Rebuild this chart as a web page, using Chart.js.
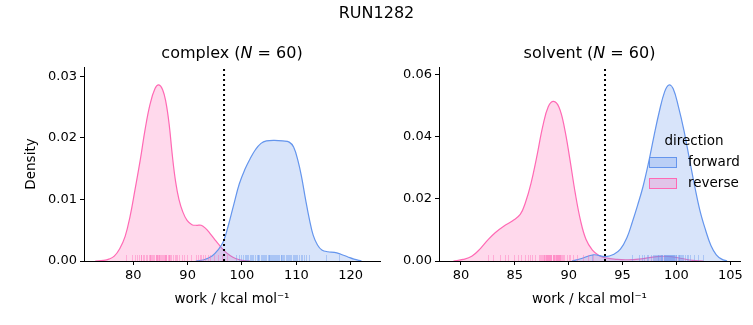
<!DOCTYPE html>
<html>
<head>
<meta charset="utf-8">
<script src="https://cdn.jsdelivr.net/npm/chart.js@4.4.0/dist/chart.umd.min.js"></script>
<style>
  body { margin:0; background:#fff; width:753px; height:325px; position:relative; overflow:hidden; font-family:'DejaVu Sans', sans-serif; }
  #sup { position:absolute; top:3px; left:0; width:753px; text-align:center; font-size:16px; color:#000; z-index:2; }
  .box { position:absolute; top:0; height:325px; }
</style>
</head>
<body>
<div id="sup">RUN1282</div>
<div class="box" style="left:0;width:385px"><canvas id="c1"></canvas></div>
<div class="box" style="left:385px;width:368px"><canvas id="c2"></canvas></div>
<script>
// --- data ---
// complex: KDE curves [work, density]
const complexForward = [[91.5,0],[93.0,0.0002],[94.5,0.0008],[95.6,0.0018],[96.6,0.0032],[97.5,0.0058],[98.5,0.0092],[99.5,0.0125],[100.5,0.0148],[101.5,0.0166],[102.5,0.0181],[103.5,0.0191],[104.5,0.0195],[106.0,0.0196],[107.5,0.0195],[108.7,0.0193],[109.5,0.0185],[110.3,0.0163],[111.0,0.0135],[111.7,0.0100],[112.4,0.0068],[113.1,0.0042],[113.9,0.0026],[114.7,0.0018],[115.8,0.0015],[117.0,0.0014],[118.2,0.0011],[119.4,0.0007],[120.6,0.0003],[122.0,0]];
const complexReverse = [[73.0,0],[74.5,0.0001],[75.5,0.0003],[76.5,0.0008],[77.5,0.0020],[78.5,0.0040],[79.4,0.0072],[80.3,0.0115],[81.3,0.0165],[82.2,0.0215],[83.1,0.0255],[84.0,0.0280],[84.7,0.0286],[85.4,0.0278],[86.0,0.0258],[86.6,0.0222],[87.2,0.0170],[87.8,0.0128],[88.4,0.0100],[89.1,0.0080],[89.9,0.0066],[90.8,0.0059],[91.7,0.0058],[92.5,0.0058],[93.3,0.0053],[94.1,0.0045],[94.9,0.0036],[95.8,0.0026],[96.8,0.0016],[97.8,0.0009],[98.8,0.0004],[100.0,0.0001],[101.5,0]];
// solvent
const solventForward = [[90.3,0],[91.2,0.0008],[92.3,0.0020],[93.4,0.0014],[94.2,0.0022],[94.8,0.0038],[95.4,0.0075],[95.9,0.0125],[96.4,0.0180],[96.9,0.0240],[97.4,0.0315],[97.9,0.0400],[98.4,0.0480],[98.9,0.0545],[99.3,0.0567],[99.7,0.0555],[100.2,0.0495],[100.7,0.0420],[101.2,0.0330],[101.7,0.0240],[102.2,0.0160],[102.7,0.0100],[103.2,0.0050],[103.7,0.0020],[104.2,0.0006],[104.7,0]];
const solventReverse = [[79.3,0],[80.2,0.0005],[81.0,0.0015],[81.8,0.0040],[82.5,0.0068],[83.2,0.0092],[84.0,0.0113],[84.8,0.0130],[85.5,0.0150],[86.0,0.0190],[86.5,0.0250],[87.0,0.0330],[87.6,0.0435],[88.1,0.0497],[88.6,0.0514],[89.1,0.0495],[89.6,0.0430],[90.1,0.0330],[90.6,0.0220],[91.1,0.0130],[91.6,0.0070],[92.2,0.0035],[92.8,0.0018],[93.4,0.0010],[94.5,0.0005],[95.5,0.0004],[96.5,0.0006],[97.5,0.0011],[98.5,0.0015],[99.5,0.0014],[100.5,0.0008],[101.5,0.0002],[102.5,0]];

// rug samples (work values)
const complexForwardRug = [98.9,99.4,99.8,100.2,100.5,100.9,101.2,101.6,101.9,102.1,102.4,102.7,103.0,103.2,103.5,103.8,104.0,104.2,104.5,104.7,105.0,105.2,105.4,105.7,105.9,106.2,106.4,106.6,106.9,107.1,107.4,107.6,107.8,108.1,108.3,108.6,108.8,109.1,109.3,109.6,109.9,110.2,110.5,110.8,111.1,111.4,111.8,112.3,103.6,104.9,106.0,107.2,108.5,101.4,100.7,102.9,105.5,109.7,115.4,117.8];
const complexReverseRug = [78.6,79.8,80.3,80.7,81.1,81.4,81.5,81.8,82.0,82.3,82.6,82.9,83.0,83.1,83.3,83.5,83.7,83.9,84.1,84.2,84.3,84.4,84.5,84.7,84.8,85.0,85.1,85.3,85.5,85.6,85.8,85.9,86.0,86.1,86.3,86.5,86.6,86.8,87.0,87.3,87.6,87.8,88.0,88.4,88.9,89.3,89.8,90.6,91.5,91.9,92.2,92.5,92.8,93.2,93.7,94.2,94.8,95.5,96.3,97.2];
const solventForwardRug = [92.2,95.9,96.5,97.0,97.3,97.6,97.8,98.0,98.2,98.3,98.5,98.6,98.7,98.8,98.9,99.0,99.1,99.2,99.3,99.4,99.5,99.5,99.6,99.7,99.8,99.9,100.0,100.1,100.2,100.3,98.4,98.1,99.0,99.6,100.4,100.6,100.8,101.0,101.3,101.6,102.0,102.5,97.4,98.9,99.3,99.8,100.2,98.6,99.1,97.9,100.5,98.3,99.7,99.4,101.1,96.8,98.8,99.2,100.0,98.7];
const solventReverseRug = [82.5,83.0,83.6,84.1,84.4,84.9,85.3,85.9,86.2,86.6,86.9,87.2,87.5,87.6,87.7,87.8,87.9,88.0,88.1,88.2,88.3,88.4,88.5,88.5,88.6,88.7,88.8,88.9,89.0,89.1,89.2,89.3,89.4,89.6,89.8,90.1,90.4,90.8,91.3,91.8,92.3,87.4,88.1,88.6,89.0,88.3,87.9,88.8,89.2,87.7,88.4,86.4,89.5,88.0,88.9,87.3,90.0,85.6,88.2,89.1];

// dotted reference line (work)
const complexLine = 96.7;
const solventLine = 93.37;

const complexXTicks = [80, 90, 100, 110, 120];
const complexYTicks = [0, 0.01, 0.02, 0.03];
const solventXTicks = [80, 85, 90, 95, 100, 105];
const solventYTicks = [0, 0.02, 0.04, 0.06];

const FWD = 'rgb(100,149,237)';
const REV = 'rgb(255,105,180)';
const FWD_FILL = 'rgba(100,149,237,0.25)';
const REV_FILL = 'rgba(255,105,180,0.25)';
const FONT = "'DejaVu Sans', sans-serif";

function toPts(arr) { return arr.map(p => ({ x: p[0], y: p[1] })); }

// rug ticks, dotted line, panel title, legend
const extras = {
  id: 'extras',
  afterDatasetsDraw(chart) {
    const o = chart.options.plugins.extras;
    const { ctx, chartArea } = chart;
    const xs = chart.scales.x;
    ctx.save();
    ctx.lineWidth = 1;
    [[o.rugF, 'rgba(100,149,237,0.4)'], [o.rugR, 'rgba(255,105,180,0.4)']].forEach(([vals, col]) => {
      ctx.strokeStyle = col;
      vals.forEach(v => {
        const px = Math.round(xs.getPixelForValue(v)) + 0.5;
        ctx.beginPath();
        ctx.moveTo(px, chartArea.bottom);
        ctx.lineTo(px, chartArea.bottom - 6);
        ctx.stroke();
      });
    });
    // dotted line
    const lx = xs.getPixelForValue(o.line);
    ctx.strokeStyle = '#000';
    ctx.lineWidth = 2;
    ctx.setLineDash([2, 3]);
    ctx.beginPath();
    ctx.moveTo(lx, chartArea.bottom);
    ctx.lineTo(lx, chartArea.top);
    ctx.stroke();
    ctx.setLineDash([]);
    ctx.restore();
  },
  afterDraw(chart) {
    const o = chart.options.plugins.extras;
    const { ctx, chartArea } = chart;
    ctx.save();
    // title with italic N
    ctx.fillStyle = '#000';
    ctx.textBaseline = 'middle';
    const parts = [[o.title + ' (', '16px ' + FONT], ['N', 'italic 16px ' + FONT], [' = 60)', '16px ' + FONT]];
    let total = 0;
    parts.forEach(p => { ctx.font = p[1]; total += ctx.measureText(p[0]).width; });
    let x = (chartArea.left + chartArea.right) / 2 - total / 2;
    parts.forEach(p => {
      ctx.font = p[1];
      ctx.textAlign = 'left';
      ctx.fillText(p[0], x, 54);
      x += ctx.measureText(p[0]).width;
    });
    // legend
    if (o.legend) {
      const L = o.legend;
      ctx.font = '13.5px ' + FONT;
      ctx.textAlign = 'center';
      ctx.fillText('direction', L.x + 45, L.y);
      [['forward', FWD, FWD_FILL], ['reverse', REV, REV_FILL]].forEach((e, i) => {
        const y = L.y + 21 + i * 21;
        ctx.fillStyle = e[2];
        ctx.fillRect(L.x, y - 5, 27, 10);
        ctx.strokeStyle = e[1];
        ctx.lineWidth = 1;
        ctx.strokeRect(L.x + 0.5, y - 4.5, 27, 10);
        ctx.fillStyle = '#000';
        ctx.textAlign = 'left';
        ctx.fillText(e[0], L.x + 39, y);
      });
    }
    ctx.restore();
  }
};

function makeChart(id, cfg) {
  const axisCommon = {
    type: 'linear',
    grid: { display: true, drawOnChartArea: false, drawTicks: true, tickLength: 4, color: '#000', lineWidth: 1 },
    border: { display: true, color: '#000', width: 1 },
  };
  const line = { fill: 'origin', borderWidth: 1.2, pointRadius: 0, tension: 0.4 };
  return new Chart(document.getElementById(id), {
    type: 'line',
    data: {
      datasets: [
        Object.assign({ data: toPts(cfg.fwd), borderColor: FWD, backgroundColor: FWD_FILL }, line),
        Object.assign({ data: toPts(cfg.rev), borderColor: REV, backgroundColor: REV_FILL }, line)
      ]
    },
    options: {
      responsive: true,
      maintainAspectRatio: false,
      animation: false,
      layout: { padding: { top: 67, right: cfg.padRight, left: 0, bottom: 0 } },
      plugins: {
        legend: { display: false },
        tooltip: { enabled: false },
        extras: { rugF: cfg.rugF, rugR: cfg.rugR, line: cfg.line, title: cfg.title, legend: cfg.legend }
      },
      scales: {
        x: Object.assign({}, axisCommon, {
          min: cfg.xmin, max: cfg.xmax,
          afterBuildTicks: s => { s.ticks = cfg.xTicks.map(v => ({ value: v })); },
          afterFit: s => { s.height = 64; },
          ticks: { color: '#000', font: { family: FONT, size: 13 }, padding: 3, maxRotation: 0, callback: v => String(v) },
          title: { display: true, text: 'work / kcal mol\u207B\u00B9', color: '#000', font: { family: FONT, size: 13.5 }, padding: { top: 0, bottom: 17 } }
        }),
        y: Object.assign({}, axisCommon, {
          min: 0, max: cfg.ymax,
          afterBuildTicks: s => { s.ticks = cfg.yTicks.map(v => ({ value: v })); },
          afterFit: s => { s.width = cfg.yWidth; },
          ticks: { color: '#000', font: { family: FONT, size: 13 }, padding: 3, callback: v => v.toFixed(2) },
          title: { display: cfg.yTitle, text: 'Density', color: '#000', font: { family: FONT, size: 13.5 }, padding: { top: 23, bottom: 0 } }
        })
      }
    },
    plugins: [extras]
  });
}

makeChart('c1', {
  fwd: complexForward, rev: complexReverse, rugF: complexForwardRug, rugR: complexReverseRug,
  line: complexLine, title: 'complex', xmin: 70.93, xmax: 125.4, ymax: 0.0315,
  xTicks: complexXTicks, yTicks: complexYTicks, yWidth: 84, yTitle: true, padRight: 5, legend: null
});
makeChart('c2', {
  fwd: solventForward, rev: solventReverse, rugF: solventForwardRug, rugR: solventReverseRug,
  line: solventLine, title: 'solvent', xmin: 77.96, xmax: 105.9, ymax: 0.0625,
  xTicks: solventXTicks, yTicks: solventYTicks, yWidth: 54, yTitle: false, padRight: 13,
  legend: { x: 264, y: 141 }
});
</script>
</body>
</html>
